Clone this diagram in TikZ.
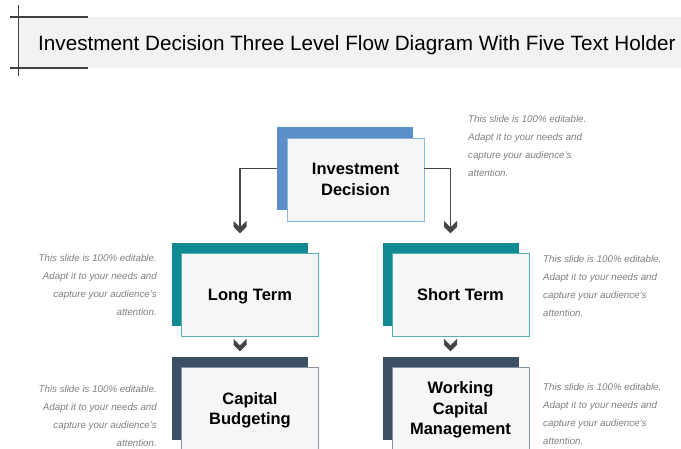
\documentclass[tikz,border=0pt]{standalone}
\usepackage{fontspec}
\setmainfont{Liberation Sans}
\usetikzlibrary{calc}

\definecolor{bandgray}{HTML}{F2F2F2}
\definecolor{rulegray}{HTML}{404040}
\definecolor{invblue}{HTML}{5B8FCA}
\definecolor{invedge}{HTML}{8DB5DB}
\definecolor{tealback}{HTML}{128A93}
\definecolor{tealedge}{HTML}{55B0B5}
\definecolor{slateback}{HTML}{3D5166}
\definecolor{slateedge}{HTML}{8793A0}
\definecolor{frontfill}{HTML}{F5F6F7}
\definecolor{arrowgray}{HTML}{454545}
\definecolor{holdergray}{HTML}{808080}

\begin{document}
\begin{tikzpicture}[x=1pt,y=-1pt,
  backbox/.style={rectangle, draw=none, inner sep=0pt,
    minimum width=136pt, minimum height=83pt},
  frontbox/.style={rectangle, fill=frontfill, line width=0.9pt, inner sep=0pt,
    minimum width=137pt, minimum height=83pt, align=center, text depth=-4pt,
    font={\fontsize{16.5}{20.5}\selectfont\bfseries}},
  holder/.style={inner sep=0pt, text=holdergray,
    font={\fontsize{9.75}{18}\selectfont\itshape}},
  conn/.style={draw=arrowgray, line width=1.4pt},
  chev/.pic={\fill[arrowgray] (-6.5,-6.5) -- (0,0) -- (6.5,-6.5) -- (6.5,-0.5)
    -- (0,6) -- (-6.5,-0.5) -- cycle;}
]
\clip (0,0) rectangle (681,448);
\fill[white] (0,0) rectangle (681,448);

% title band with bracket rules
\fill[bandgray] (18,17) rectangle (681,68);
\draw[rulegray, line width=0.8pt] (18,5) -- (18,76);
\draw[rulegray, line width=1.5pt] (10,17) -- (88,17);
\draw[rulegray, line width=1.5pt] (10,68) -- (88,68);
\node[anchor=base west, inner sep=0pt, text=black,
  font={\fontsize{20.7}{24}\selectfont}] (title) at (38,50)
  {Investment Decision Three Level Flow Diagram With Five Text Holder};

% level 1
\node[backbox, fill=invblue] (invback) at (345,168.5) {};
\node[frontbox, draw=invedge] (inv) at (355.5,179.5) {Investment\\Decision};

% level 2
\node[backbox, fill=tealback] (ltback) at (240,284) {};
\node[frontbox, draw=tealedge] (lt) at (250,294.5) {Long Term};
\node[backbox, fill=tealback] (stback) at (450.5,284) {};
\node[frontbox, draw=tealedge] (st) at (460.5,294.5) {Short Term};

% level 3
\node[backbox, fill=slateback] (cbback) at (240,398.5) {};
\node[frontbox, draw=slateedge] (cb) at (250,408.5) {Capital\\Budgeting};
\node[backbox, fill=slateback] (wcback) at (450.5,398.5) {};
\node[frontbox, draw=slateedge] (wc) at (460.5,408.5) {Working\\Capital\\Management};

% connectors from the top box
\coordinate (ltin) at ($(ltback.north)+(0,-15)$);
\coordinate (stin) at ($(stback.north)+(0,-15)$);
\draw[conn] (invback.west) -| (ltin);
\draw[conn] (inv.east |- invback.east) -| (stin);
\pic at (ltin) {chev};
\pic at (stin) {chev};

% chevrons between level 2 and level 3
\pic at ($(ltback.south |- lt.south)+(0,9)$) {chev};
\pic at ($(stback.south |- st.south)+(0,9)$) {chev};

% text holders
\node[holder, anchor=north west, align=left] (tr) at (468,115.5)
  {This slide is 100\% editable.\\Adapt it to your needs and\\capture your audience's\\attention.};
\node[holder, anchor=north east, align=right] (ml) at (157,254.5)
  {This slide is 100\% editable.\\Adapt it to your needs and\\capture your audience's\\attention.};
\node[holder, anchor=north west, align=left] (mr) at (543,255)
  {This slide is 100\% editable.\\Adapt it to your needs and\\capture your audience's\\attention.};
\node[holder, anchor=north east, align=right] (bl) at (157,385.5)
  {This slide is 100\% editable.\\Adapt it to your needs and\\capture your audience's\\attention.};
\node[holder, anchor=north west, align=left] (br) at (543,383.5)
  {This slide is 100\% editable.\\Adapt it to your needs and\\capture your audience's\\attention.};
\end{tikzpicture}
\end{document}
